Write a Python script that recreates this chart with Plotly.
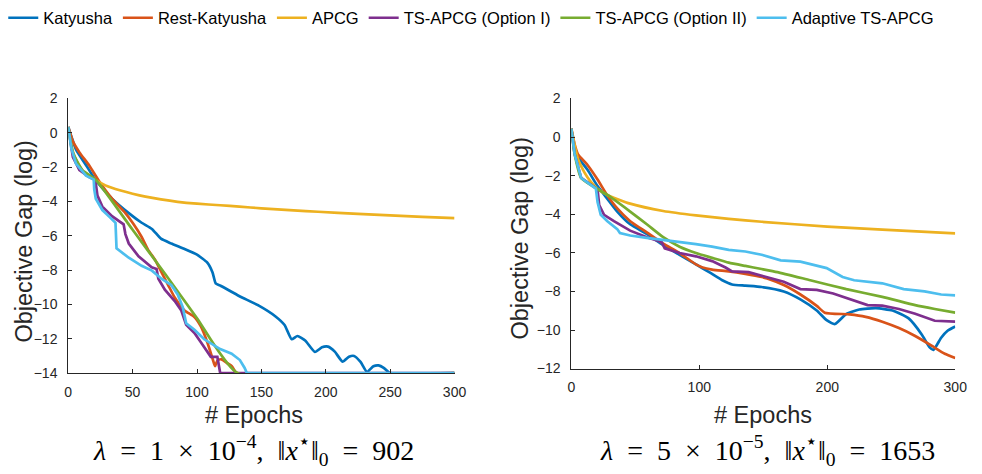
import plotly.graph_objects as go

names = ["Katyusha", "Rest-Katyusha", "APCG", "TS-APCG (Option I)", "TS-APCG (Option II)", "Adaptive TS-APCG"]
colors = ["#0072BD", "#D95319", "#EDB120", "#7E2F8E", "#77AC30", "#4DBEEE"]

# ---------------- Left panel (lambda = 1e-4) ----------------
kat_L_x = [0, 6, 14, 21, 34, 47, 57, 65, 72, 80, 90, 100, 108, 112, 114.5, 118, 133, 148, 161, 168, 173.5, 178, 184, 191.6, 197, 201.7, 207, 213, 218, 222, 227, 232, 237, 241, 245, 248.5, 250, 300]
kat_L_y = [0.34, -0.96, -1.9, -2.73, -3.84, -4.68, -5.24, -5.6, -6.17, -6.45, -6.76, -7.1, -7.56, -8.12, -8.77, -8.9, -9.52, -10.07, -10.7, -11.2, -12.03, -11.84, -12.1, -12.77, -12.5, -12.46, -12.75, -13.33, -13.05, -13.0, -13.35, -13.93, -13.6, -13.55, -13.7, -13.93, -14, -14]

rest_L_x = [0, 3.6, 8.7, 16.3, 24, 34, 44.4, 50.8, 57, 62, 67.3, 72.4, 77.6, 82.7, 90.3, 98, 103, 108, 112, 114, 116, 119, 123, 127, 129.5, 131, 300]
rest_L_y = [0.34, -0.5, -1.14, -1.9, -2.82, -3.84, -4.68, -5.33, -6.07, -6.82, -7.38, -8.12, -8.87, -9.6, -10.35, -10.73, -11.28, -12.2, -13.14, -13.6, -13.25, -13.2, -13.4, -13.6, -13.9, -14, -14]

apcg_L_x = [0, 2, 5, 10, 15, 21, 30, 40, 50, 60, 72, 85, 100, 118, 133, 150, 175, 194, 225, 250, 275, 300]
apcg_L_y = [0.34, -0.6, -1.4, -2.1, -2.5, -2.75, -3.1, -3.35, -3.55, -3.72, -3.88, -4.02, -4.13, -4.22, -4.3, -4.4, -4.52, -4.6, -4.72, -4.81, -4.9, -4.97]

ts1_L_x = [0, 3.6, 8.7, 16.3, 21, 22.7, 26.5, 34, 43, 44.4, 47, 54.6, 64.8, 68.6, 70, 75, 82.7, 87.8, 91.6, 98, 103, 108, 110.7, 115.8, 117, 118, 122, 300]
ts1_L_y = [0.34, -1.42, -2.17, -2.58, -2.73, -3.66, -4.3, -4.86, -5.33, -5.9, -6.45, -7.2, -7.84, -7.93, -8.5, -9.14, -9.8, -10.35, -11.19, -11.66, -12.2, -12.77, -13.05, -13.05, -13.7, -14, -14, -14]

ts2_L_x = [0, 3.6, 11, 21.4, 50, 75, 100, 131.5, 300]
ts2_L_y = [0.34, -1.14, -2.17, -2.73, -5.65, -8.2, -10.8, -14, -14]

ada_L_x = [0, 2.3, 6, 13.8, 19.8, 20.2, 21.4, 26.5, 31.6, 36.7, 37.5, 47, 57, 65, 72.4, 80, 85, 89, 91.6, 98, 105.6, 113, 118, 126.9, 133.3, 137, 138.7, 300]
ada_L_y = [0.34, -0.87, -1.8, -2.5, -2.73, -3.3, -3.84, -4.5, -4.87, -5.24, -6.73, -7.28, -7.75, -8.03, -8.5, -8.87, -9.42, -10.17, -11.1, -11.47, -12.03, -12.4, -12.6, -12.87, -13.24, -13.7, -14, -14]

# ---------------- Right panel (lambda = 5e-5) ----------------
kat_R_x = [0, 2.6, 5.1, 12.8, 20.5, 28.2, 35.9, 46, 59, 71.8, 84.6, 97.4, 107.7, 118, 125.6, 136, 148.7, 166, 179, 191.8, 199.5, 206, 215, 225, 238, 251, 263.6, 273.8, 280, 283, 289, 294, 300]
kat_R_y = [0.44, -0.72, -1.05, -1.71, -2.54, -3.2, -3.86, -4.52, -5.02, -5.6, -6.1, -6.6, -7.0, -7.42, -7.64, -7.7, -7.77, -8.0, -8.41, -8.99, -9.49, -9.69, -9.16, -8.94, -8.87, -8.99, -9.4, -10.23, -10.9, -11.03, -10.4, -10.04, -9.82]

rest_R_x = [0, 2.6, 5.1, 12.8, 20.5, 28.2, 35.9, 46, 59, 71.8, 84.6, 97.4, 102.6, 110, 123, 136, 148.7, 153, 166, 179, 191.8, 198, 217.4, 230, 243, 256, 268.7, 281.5, 291.8, 300]
rest_R_y = [0.44, -0.38, -0.88, -1.46, -2.2, -3.03, -3.7, -4.36, -4.94, -5.52, -6.01, -6.6, -6.76, -6.87, -6.96, -7.09, -7.25, -7.33, -7.67, -8.16, -8.75, -9.1, -9.19, -9.32, -9.57, -9.9, -10.31, -10.81, -11.23, -11.45]

apcg_R_x = [0, 5, 10, 15, 20, 28.2, 46, 71.8, 97.4, 123, 148.7, 200, 243, 300]
apcg_R_y = [0.44, -1.1, -1.8, -2.3, -2.65, -3.0, -3.45, -3.83, -4.06, -4.24, -4.39, -4.64, -4.8, -4.99]

ts1_R_x = [0, 2.6, 7.7, 20.5, 21.8, 25.6, 33.3, 46, 59, 70.5, 73, 84.6, 97.4, 110, 120.5, 125.6, 138.5, 153, 166, 179, 191.8, 204.6, 217.4, 231.5, 243, 256, 268.7, 279, 284, 300]
ts1_R_y = [0.44, -0.88, -2.12, -2.7, -3.53, -4.03, -4.36, -4.85, -5.19, -5.43, -5.77, -6.01, -6.18, -6.43, -6.76, -6.96, -7.0, -7.25, -7.5, -7.88, -7.92, -8.11, -8.41, -8.71, -8.74, -8.91, -9.16, -9.41, -9.52, -9.57]

ts2_R_x = [0, 2.6, 7.7, 20.5, 28.2, 46, 59, 71.8, 84.6, 97.4, 110, 123, 136, 148.7, 161, 186.7, 214.9, 243, 268.7, 284, 300]
ts2_R_y = [0.44, -0.88, -2.12, -2.7, -3.0, -3.86, -4.52, -5.19, -5.68, -6.01, -6.26, -6.51, -6.68, -6.84, -7.0, -7.42, -7.88, -8.28, -8.71, -8.91, -9.1]

ada_R_x = [0, 2.6, 7.7, 19.2, 20.5, 23, 28.2, 35.9, 38, 46, 59, 71.8, 84.6, 97.4, 110, 123, 136, 148.7, 163.6, 179, 199.5, 212, 221, 243, 259.7, 276, 289, 300]
ada_R_y = [0.44, -0.88, -2.12, -2.67, -3.36, -4.03, -4.36, -4.77, -4.97, -5.1, -5.22, -5.32, -5.43, -5.55, -5.68, -5.85, -5.93, -6.1, -6.39, -6.46, -6.79, -7.25, -7.42, -7.58, -7.88, -8.0, -8.16, -8.2]

left_x_ticks = [0, 50, 100, 150, 200, 250, 300]
left_y_ticks = [2, 0, -2, -4, -6, -8, -10, -12, -14]
right_x_ticks = [0, 100, 200, 300]
right_y_ticks = [2, 0, -2, -4, -6, -8, -10, -12]

x_title = "# Epochs"
y_title = "Objective Gap (log)"
sp = "\u2002"
caption_L = f"<i>λ</i>{sp}={sp}1{sp}×{sp}10<sup>−4</sup>,{sp}‖<i>x</i><sup>⋆</sup>‖<sub>0</sub>{sp}={sp}902"
caption_R = f"<i>λ</i>{sp}={sp}5{sp}×{sp}10<sup>−5</sup>,{sp}‖<i>x</i><sup>⋆</sup>‖<sub>0</sub>{sp}={sp}1653"

left_series = [(kat_L_x, kat_L_y), (rest_L_x, rest_L_y), (apcg_L_x, apcg_L_y),
               (ts1_L_x, ts1_L_y), (ts2_L_x, ts2_L_y), (ada_L_x, ada_L_y)]
right_series = [(kat_R_x, kat_R_y), (rest_R_x, rest_R_y), (apcg_R_x, apcg_R_y),
                (ts1_R_x, ts1_R_y), (ts2_R_x, ts2_R_y), (ada_R_x, ada_R_y)]
smooth = [True, True, True, False, True, False]

fig = go.Figure()
for i, (xs, ys) in enumerate(left_series):
    fig.add_trace(go.Scatter(x=xs, y=ys, mode="lines", name=names[i],
                             line=dict(color=colors[i], width=2.7,
                                       shape="spline" if smooth[i] else "linear", smoothing=0.5),
                             xaxis="x", yaxis="y", legendgroup=names[i]))
for i, (xs, ys) in enumerate(right_series):
    fig.add_trace(go.Scatter(x=xs, y=ys, mode="lines", name=names[i], showlegend=False,
                             line=dict(color=colors[i], width=2.7,
                                       shape="spline" if smooth[i] else "linear", smoothing=0.5),
                             xaxis="x2", yaxis="y2", legendgroup=names[i]))

W, H = 982, 474
tick_font = dict(family="Liberation Sans, Arial, sans-serif", size=14, color="#262626")
axis_common = dict(showline=True, linecolor="#262626", linewidth=1, mirror=False,
                   ticks="inside", ticklen=4, tickcolor="#262626", tickwidth=1,
                   showgrid=False, zeroline=False, tickfont=tick_font)

fig.update_layout(
    width=W, height=H,
    margin=dict(l=0, r=0, t=0, b=0),
    paper_bgcolor="white", plot_bgcolor="white",
    xaxis=dict(domain=[65.3 / W, 458 / W], range=[0, 300], tickvals=left_x_ticks,
               anchor="y", ticklabelstandoff=6, **axis_common),
    yaxis=dict(domain=[1 - 377 / H, 1 - 90.3 / H], range=[-14, 2], tickvals=left_y_ticks,
               anchor="x", ticklabelstandoff=7, **axis_common),
    xaxis2=dict(domain=[576.7 / W, 967 / W], range=[0, 300], tickvals=right_x_ticks,
                anchor="y2", ticklabelstandoff=6, **axis_common),
    yaxis2=dict(domain=[1 - 372.3 / H, 1 - 90.3 / H], range=[-12, 2], tickvals=right_y_ticks,
                anchor="x2", ticklabelstandoff=7, **axis_common),
    legend=dict(orientation="h", x=475 / W, xanchor="center", y=1 + 12 / H, yanchor="top",
                font=dict(family="Liberation Sans, Arial, sans-serif", size=16.5, color="#000000"),
                bgcolor="rgba(0,0,0,0)", itemwidth=30, tracegroupgap=0),
    showlegend=True,
)

label_font = dict(family="Liberation Sans, Arial, sans-serif", size=23.5, color="#262626")
cap_font = dict(family="Liberation Serif, Times New Roman, serif", size=28, color="#000000")
ann = [
    dict(text=x_title, x=254 / W, y=1 - 421 / H, xref="paper", yref="paper",
         showarrow=False, font=label_font, xanchor="center", yanchor="middle"),
    dict(text=x_title, x=772 / W, y=1 - 421 / H, xref="paper", yref="paper",
         showarrow=False, font=label_font, xanchor="center", yanchor="middle"),
    dict(text=y_title, x=20 / W, y=1 - 240 / H, xref="paper", yref="paper", textangle=-90,
         showarrow=False, font=label_font, xanchor="center", yanchor="middle"),
    dict(text=y_title, x=525 / W, y=1 - 236 / H, xref="paper", yref="paper", textangle=-90,
         showarrow=False, font=label_font, xanchor="center", yanchor="middle"),
    dict(text=caption_L, x=253.7 / W, y=1 - 458 / H, xref="paper", yref="paper",
         showarrow=False, font=cap_font, xanchor="center", yanchor="middle"),
    dict(text=caption_R, x=776 / W, y=1 - 458 / H, xref="paper", yref="paper",
         showarrow=False, font=cap_font, xanchor="center", yanchor="middle"),
]
fig.update_layout(annotations=ann)

fig.write_html("out.html")
